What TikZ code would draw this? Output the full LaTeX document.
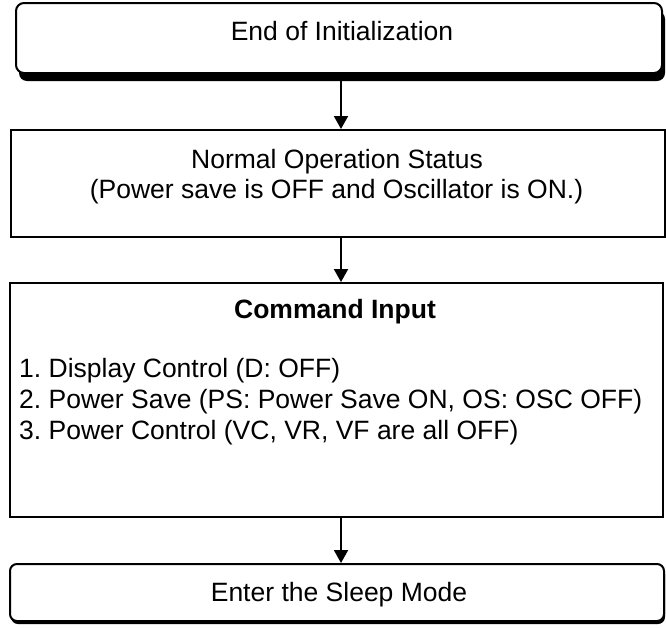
\documentclass[tikz,border=0pt]{standalone}
\usepackage{fontspec}
\setmainfont{Liberation Sans}
\frenchspacing
\usetikzlibrary{arrows.meta,shadows}
\tikzset{
  boxline/.style={draw=black, line width=2pt, fill=white, inner sep=0pt},
  roundbox/.style={boxline, rounded corners=8pt},
  plainbox/.style={boxline},
  txt/.style={inner sep=0pt, anchor=base, font=\fontsize{26.5}{31}\selectfont},
  flow/.style={line width=2pt, -{Triangle[width=14pt,length=13pt]}},
}
\begin{document}
\begin{tikzpicture}[x=1pt,y=-1pt]
\useasboundingbox (0,0) rectangle (666,627);
% shadows
\fill[black, rounded corners=8pt] (19,11) rectangle (665,81);
\fill[black, rounded corners=7pt] (11,567) rectangle (665,624);
% boxes
\node[roundbox, minimum width=646pt, minimum height=70pt] (init) at (339,38) {};
\node[plainbox, minimum width=654pt, minimum height=107pt] (normal) at (338,183.5) {};
\node[plainbox, minimum width=653pt, minimum height=234pt] (cmd) at (336.5,400) {};
\node[roundbox, rounded corners=7pt, minimum width=654pt, minimum height=57pt] (sleep) at (337,592.5) {};
\coordinate (initshadow) at (341,81);
% texts
\node[txt] (t1) at (342,40) {End of Initialization};
\node[txt] (t2a) at (337,168) {Normal Operation Status};
\node[txt] (t2b) at (336.5,198) {(Power save is OFF and Oscillator is ON.)};
\node[txt, font=\fontsize{26.5}{31}\selectfont\bfseries] (t3) at (335,318) {Command Input};
\node[txt, anchor=base west] (t4a) at (19,377) {1. Display Control (D: OFF)};
\node[txt, anchor=base west] (t4b) at (19,408) {2. Power Save (PS: Power Save ON, OS: OSC OFF)};
\node[txt, anchor=base west] (t4c) at (19,439) {3. Power Control (VC, VR, VF are all OFF)};
\node[txt] (t5) at (339,601) {Enter the Sleep Mode};
% arrows
\draw[flow] (initshadow) -- (initshadow |- normal.north);
\draw[flow] (initshadow |- normal.south) -- (initshadow |- cmd.north);
\draw[flow] (initshadow |- cmd.south) -- (initshadow |- sleep.north);
\end{tikzpicture}
\end{document}
